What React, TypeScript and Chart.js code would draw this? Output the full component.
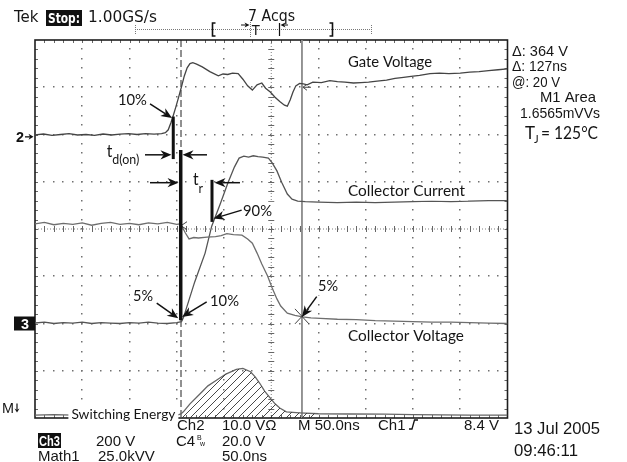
import React, { useEffect, useRef } from "react";
import { Chart, registerables } from "chart.js";

Chart.register(...registerables);

// Time in ns from the left edge of the screen (50 ns/div, 10 div).
// Levels in screen divisions counted from the bottom of the graticule (8 div).
const gateTime = [
  0, 9, 18, 27, 36, 45, 54, 63, 72, 81,
  90, 99, 108, 117, 126, 134, 138, 141, 144, 146,
  149, 152, 155, 158, 161, 164, 167, 171, 177, 185,
  194, 199, 204, 209, 215, 220, 225, 230, 235, 240,
  244, 249, 254, 259, 264, 267, 270, 273, 276, 280,
  284, 288, 294, 303, 312, 320, 328, 337, 345, 353,
  362, 372, 381, 390, 398, 407, 418, 428, 438, 450,
  460, 470, 480, 490, 500,
];
const gateLevel = [
  5.99, 6.01, 5.98, 6.0, 6.02, 5.99, 6.0, 5.98, 6.01, 5.99,
  6.01, 6.02, 6.0, 6.02, 6.01, 6.02, 6.04, 6.1, 6.26, 6.38,
  6.58, 6.79, 7.01, 7.24, 7.41, 7.5, 7.52, 7.49, 7.43, 7.33,
  7.24, 7.28, 7.27, 7.3, 7.29, 7.17, 7.03, 6.94, 7.05, 7.09,
  6.98, 6.9, 6.79, 6.7, 6.62, 6.6, 6.73, 6.9, 7.03, 7.08,
  7.07, 7.05, 7.11, 7.1, 7.14, 7.12, 7.11, 7.09, 7.1, 7.11,
  7.13, 7.15, 7.19, 7.21, 7.23, 7.25, 7.29, 7.3, 7.29, 7.3,
  7.32, 7.33, 7.35, 7.37, 7.39,
];

const currentTime = [
  0, 10, 20, 30, 40, 50, 60, 70, 80, 90, 100, 110, 120, 130, 140, 150,
  155, 157, 169, 180, 187, 196, 204, 211, 216, 221,
  226, 231, 236, 241, 247, 251, 256, 261, 267, 272,
  278, 286, 300, 320, 340, 360, 380, 400, 420, 440,
  460, 480, 500,
];
const currentLevel = [
  2.01, 2.03, 2.0, 2.02, 2.01, 2.03, 2.0, 2.02, 2.01, 2.0, 2.02, 2.01, 2.03, 2.01, 2.0, 2.02,
  2.04, 2.12, 2.88, 3.49, 4.06, 4.53, 4.97, 5.31, 5.5, 5.54,
  5.52, 5.55, 5.53, 5.52, 5.5, 5.4, 5.23, 4.99, 4.74, 4.63,
  4.59, 4.58, 4.57, 4.56, 4.57, 4.56, 4.57, 4.58, 4.59, 4.58,
  4.59, 4.6, 4.6,
];

const voltageTime = [
  0, 10, 20, 30, 40, 50, 60, 70, 80, 90, 100, 110, 120, 130, 140, 150,
  154, 159, 163, 168, 173, 182, 191, 197, 203, 210,
  219, 225, 230, 235, 240, 246, 251, 256, 260, 267,
  275, 283, 292, 302, 320, 340, 360, 380, 400, 420,
  440, 460, 480, 500,
];
const voltageLevel = [
  4.11, 4.14, 4.09, 4.12, 4.1, 4.13, 4.08, 4.12, 4.14, 4.1, 4.12, 4.09, 4.13, 4.11, 4.14, 4.1,
  4.11, 3.92, 3.79, 3.82, 3.81, 3.83, 3.84, 3.86, 3.9, 3.88,
  3.87, 3.79, 3.7, 3.49, 3.26, 3.01, 2.75, 2.52, 2.37, 2.22,
  2.17, 2.14, 2.12, 2.11, 2.09, 2.08, 2.06, 2.05, 2.04, 2.03,
  2.03, 2.02, 2.01, 2.0,
];

const energyTime = [
  0, 20, 40, 60, 80, 100, 120, 140, 150,
  154, 157, 164, 175, 183, 192, 202, 213, 220, 228,
  233, 238, 243, 249, 254, 259, 266, 280, 300, 333,
  370, 400, 429, 460, 500,
];
const energyLevel = [
  0.06, 0.07, 0.06, 0.05, 0.07, 0.06, 0.06, 0.07, 0.06,
  0.08, 0.13, 0.3, 0.52, 0.68, 0.8, 0.93, 1.03, 1.05, 0.98,
  0.87, 0.73, 0.57, 0.42, 0.3, 0.21, 0.13, 0.11, 0.09, 0.085,
  0.08, 0.07, 0.065, 0.06, 0.06,
];
const hatchStart = 150;
const hatchEnd = 300;

const dashedCursorTime = 154.5;
const solidCursorTime = 282.5;

// annotation geometry in data units [time ns, level div]
const markerBars = [
  { t: 146.3, a: 6.38, b: 5.48, w: 3 },
  { t: 154.2, a: 5.67, b: 2.07, w: 3.5 },
  { t: 187.3, a: 5.04, b: 4.15, w: 3 },
];
const arrowList = [
  [121.7, 6.65, 145.0, 6.35],
  [116.4, 5.57, 144.4, 5.57],
  [182.0, 5.57, 156.1, 5.57],
  [121.7, 4.98, 151.9, 4.98],
  [216.9, 4.98, 190.0, 4.98],
  [218.7, 4.40, 188.9, 4.22],
  [128.8, 2.43, 151.6, 2.11],
  [181.7, 2.46, 155.6, 2.14],
  [298.1, 2.57, 282.5, 2.14],
];
// [text, time, level(baseline), width px, size px]
const noteLabels: [string, number, number, number, number][] = [
  ["10%", 87.8, 6.624, 29, 16],
  ["90%", 220.1, 4.275, 29, 16],
  ["5%", 103.7, 2.476, 20, 16],
  ["10%", 185.2, 2.37, 29, 16],
  ["5%", 299.5, 2.688, 20, 16],
  ["Gate Voltage", 331.2, 7.439, 84, 15],
  ["Collector Current", 331.2, 4.688, 117, 15],
  ["Collector Voltage", 331.2, 1.63, 116, 15],
  ["Switching Energy", 38.5, -0.021, 104, 14],
];

const NOTE = 'Lato, "Open Sans", sans-serif';
const SCOPE = '"Liberation Sans", Arial, sans-serif';
const TOPF = '"DejaVu Sans", sans-serif';

function fitText(ctx: any, s: string, x: number, base: number, size: number, width: number, family: string, color = "#151515", bg = false, weight = "normal") {
  ctx.save();
  ctx.font = `${weight} ${size}px ${family}`;
  ctx.textAlign = "left";
  ctx.textBaseline = "alphabetic";
  const m = ctx.measureText(s).width;
  const w = width || m;
  if (bg) {
    ctx.fillStyle = "#fff";
    ctx.fillRect(x - 3, base - size * 0.76 - 2, w + 6, size * 0.76 + 6);
  }
  ctx.fillStyle = color;
  ctx.translate(x, base);
  ctx.scale(w / m, 1);
  ctx.fillText(s, 0, 0);
  ctx.restore();
}

function arrow(ctx: any, x1: number, y1: number, x2: number, y2: number, hl = 11, hw = 4.6, lw = 1.5) {
  const a = Math.atan2(y2 - y1, x2 - x1);
  const c = Math.cos(a), s = Math.sin(a);
  const bx = x2 - c * hl * 0.7, by = y2 - s * hl * 0.7;
  const hx = x2 - c * hl, hy = y2 - s * hl;
  ctx.save();
  ctx.strokeStyle = "#111";
  ctx.fillStyle = "#111";
  ctx.lineWidth = lw;
  ctx.beginPath();
  ctx.moveTo(x1, y1);
  ctx.lineTo(bx, by);
  ctx.stroke();
  ctx.beginPath();
  ctx.moveTo(x2, y2);
  ctx.lineTo(hx - s * hw, hy + c * hw);
  ctx.lineTo(bx, by);
  ctx.lineTo(hx + s * hw, hy - c * hw);
  ctx.closePath();
  ctx.fill();
  ctx.restore();
}

function line(ctx: any, x1: number, y1: number, x2: number, y2: number) {
  ctx.beginPath();
  ctx.moveTo(x1, y1);
  ctx.lineTo(x2, y2);
  ctx.stroke();
}

const scopePlugin = {
  id: "scope",
  beforeDraw(chart: any) {
    const ctx = chart.ctx;
    ctx.save();
    ctx.fillStyle = "#fff";
    ctx.fillRect(0, 0, chart.width, chart.height);
    ctx.restore();
  },
  beforeDatasetsDraw(chart: any) {
    const ctx = chart.ctx;
    const { left: L, right: R, top: T, bottom: B } = chart.chartArea;
    const dx = (R - L) / 10, dy = (B - T) / 8;
    ctx.save();
    ctx.fillStyle = "#707070";
    for (let i = 1; i < 10; i++) {
      if (i === 5) continue;
      const x = L + i * dx;
      for (let k = 1; k < 40; k++) ctx.fillRect(Math.round(x) - 1, Math.round(T + (k * dy) / 5) - 1, 1.5, 1.5);
    }
    for (let j = 1; j < 8; j++) {
      if (j === 4) continue;
      const y = T + j * dy;
      for (let k = 1; k < 50; k++) ctx.fillRect(Math.round(L + (k * dx) / 5) - 1, Math.round(y) - 1, 1.5, 1.5);
    }
    const cx = L + 5 * dx, cy = T + 4 * dy;
    ctx.strokeStyle = "#808080";
    ctx.lineWidth = 1;
    ctx.setLineDash([1, 2]);
    line(ctx, cx, T, cx, B);
    line(ctx, L, cy, R, cy);
    ctx.setLineDash([]);
    ctx.strokeStyle = "#666";
    for (let k = 1; k < 40; k++) {
      const y = Math.round(T + (k * dy) / 5) + 0.5;
      line(ctx, cx - 3, y, cx + 3, y);
      line(ctx, L, y, L + 3, y);
      line(ctx, R - 3, y, R, y);
    }
    for (let k = 1; k < 50; k++) {
      const x = Math.round(L + (k * dx) / 5) + 0.5;
      line(ctx, x, cy - 3, x, cy + 3);
      line(ctx, x, T, x, T + 3);
      line(ctx, x, B - 3, x, B);
    }
    ctx.strokeStyle = "#1e1e1e";
    ctx.lineWidth = 1.6;
    ctx.strokeRect(L, T, R - L, B - T);

    // cursors
    const xs = chart.scales.x;
    const xd = xs.getPixelForValue(dashedCursorTime);
    ctx.strokeStyle = "#222";
    ctx.lineWidth = 1;
    ctx.setLineDash([7, 3]);
    line(ctx, xd, T, xd, B);
    ctx.setLineDash([]);
    const xsol = xs.getPixelForValue(solidCursorTime);
    ctx.strokeStyle = "#8a8a8a";
    ctx.lineWidth = 1.8;
    line(ctx, xsol, T, xsol, B);
    ctx.restore();
  },
  afterDatasetsDraw(chart: any) {
    const ctx = chart.ctx;
    const xs = chart.scales.x, ys = chart.scales.y;
    const px = (t: number) => xs.getPixelForValue(t);
    const py = (v: number) => ys.getPixelForValue(v);
    ctx.save();

    // cursor markers
    ctx.strokeStyle = "#444";
    ctx.lineWidth = 1;
    {
      const x = px(solidCursorTime), y = py(7.0);
      line(ctx, x + 1, y, x + 9, y);
      line(ctx, x + 1, y, x + 5, y - 3);
      line(ctx, x + 1, y, x + 5, y + 3);
      const xd = px(dashedCursorTime), yv = py(4.07);
      line(ctx, xd + 6, yv - 4, xd, yv);
      line(ctx, xd, yv, xd + 6, yv + 4);
      const yx = py(2.14);
      line(ctx, x - 7, yx - 8, x + 7, yx + 7);
      line(ctx, x - 7, yx + 7, x + 7, yx - 8);
    }

    // labels with white backing
    for (const [s, t, v, w, size] of noteLabels) {
      fitText(ctx, s, px(t), py(v), size, w, NOTE, "#151515", true);
    }
    // t d(on), t r
    {
      const x = px(75.9), b = py(5.53);
      ctx.fillStyle = "#fff";
      ctx.fillRect(x - 3, b - 13, 38, 23);
      fitText(ctx, "t", x, b, 17, 5.6, NOTE);
      fitText(ctx, "d(on)", px(81.8), py(5.386), 13, 27, NOTE);
      const xr = px(167.2), br = py(4.931);
      ctx.fillStyle = "#fff";
      ctx.fillRect(xr - 3, br - 13, 15, 23);
      fitText(ctx, "t", xr, br, 17, 5.6, NOTE);
      fitText(ctx, "r", px(173.0), py(4.762), 13, 4.5, NOTE);
    }

    // bars
    ctx.strokeStyle = "#111";
    for (const b of markerBars) {
      ctx.lineWidth = b.w;
      line(ctx, px(b.t), py(b.a), px(b.t), py(b.b));
    }
    // arrows
    for (const [t1, v1, t2, v2] of arrowList) arrow(ctx, px(t1), py(v1), px(t2), py(v2));

    // ---- scope readouts ----
    // top
    fitText(ctx, "Tek", 14, 22, 15, 0, TOPF);
    ctx.fillStyle = "#111";
    ctx.fillRect(46, 10, 36, 16);
    fitText(ctx, "Stop:", 48, 22.5, 14, 32, TOPF, "#fff", false, "bold");
    fitText(ctx, "1.00GS/s", 88, 22, 15, 69, TOPF);
    fitText(ctx, "7 Acqs", 248, 20.5, 15, 47, TOPF);
    // record ruler
    ctx.strokeStyle = "#777";
    ctx.lineWidth = 1;
    ctx.setLineDash([1, 1]);
    line(ctx, 135, 29.5, 372, 29.5);
    line(ctx, 135.5, 25, 135.5, 34);
    line(ctx, 371.5, 25, 371.5, 34);
    line(ctx, 250.5, 20, 250.5, 38);
    ctx.setLineDash([]);
    ctx.strokeStyle = "#111";
    ctx.lineWidth = 1.6;
    ctx.beginPath();
    ctx.moveTo(215.5, 23); ctx.lineTo(212.5, 23); ctx.lineTo(212.5, 36); ctx.lineTo(215.5, 36);
    ctx.stroke();
    ctx.beginPath();
    ctx.moveTo(329.5, 23); ctx.lineTo(332.5, 23); ctx.lineTo(332.5, 36); ctx.lineTo(329.5, 36);
    ctx.stroke();
    ctx.lineWidth = 1.2;
    line(ctx, 279.5, 23, 279.5, 36);
    arrow(ctx, 288, 25, 280.5, 25, 5, 2.5, 1);
    arrow(ctx, 241, 25, 249.5, 25, 5, 2.5, 1);
    fitText(ctx, "T", 251.5, 35, 14, 0, SCOPE);

    // right side readouts
    fitText(ctx, "\u0394: 364 V", 512, 55.5, 15, 56, SCOPE);
    fitText(ctx, "\u0394: 127ns", 512, 71, 15, 55, SCOPE);
    fitText(ctx, "@: 20 V", 512, 86.5, 15, 48, SCOPE);
    fitText(ctx, "M1 Area", 540, 102, 15, 56, SCOPE);
    fitText(ctx, "1.6565mVVs", 520, 118, 15, 80, SCOPE);
    fitText(ctx, "T", 525, 139, 17, 0, NOTE);
    fitText(ctx, "J", 534, 142.5, 11, 0, NOTE);
    fitText(ctx, "= 125\u00b0C", 541, 139, 17, 57, NOTE);

    // left channel markers
    {
      const y2 = py(5.95);
      fitText(ctx, "2", 16, y2 + 5.5, 15, 8, SCOPE, "#111", false, "bold");
      arrow(ctx, 25, y2, 33.5, y2, 5, 3, 1.3);
      const y3 = py(2.0);
      ctx.fillStyle = "#111";
      ctx.fillRect(14, y3 - 7, 21, 14);
      fitText(ctx, "3", 21, y3 + 5, 14, 8, SCOPE, "#fff", false, "bold");
      const ym = py(0.2);
      fitText(ctx, "M", 2, ym + 4, 15, 12, SCOPE);
      ctx.strokeStyle = "#111";
      arrow(ctx, 17, ym - 5, 17, ym + 4, 4, 2.5, 1.2);
    }

    // bottom rows
    fitText(ctx, "Ch2", 177, 430, 15, 0, SCOPE);
    fitText(ctx, "10.0 V\u03a9", 222, 430, 15, 0, SCOPE);
    fitText(ctx, "M 50.0ns", 298, 430, 15, 0, SCOPE);
    fitText(ctx, "Ch1", 378, 430, 15, 0, SCOPE);
    ctx.strokeStyle = "#111";
    ctx.lineWidth = 1.3;
    ctx.beginPath();
    ctx.moveTo(409, 429); ctx.lineTo(412, 429); ctx.lineTo(414.5, 420); ctx.lineTo(418, 420);
    ctx.stroke();
    fitText(ctx, "8.4 V", 464, 430, 15, 0, SCOPE);
    fitText(ctx, "13 Jul 2005", 514, 434, 16.5, 86, SCOPE);
    fitText(ctx, "09:46:11", 514, 456, 16.5, 64, SCOPE);

    ctx.fillStyle = "#111";
    ctx.fillRect(38, 433, 23, 15);
    fitText(ctx, "Ch3", 39, 446, 14, 21, SCOPE, "#fff", false, "bold");
    fitText(ctx, "200 V", 96, 446, 15, 0, SCOPE);
    fitText(ctx, "C4", 176, 446, 15, 0, SCOPE);
    fitText(ctx, "B", 197, 440, 7, 0, SCOPE);
    fitText(ctx, "w", 200, 446, 7, 0, SCOPE);
    fitText(ctx, "20.0 V", 222, 446, 15, 0, SCOPE);

    fitText(ctx, "Math1", 38, 461, 15, 0, SCOPE);
    fitText(ctx, "25.0kVV", 98, 461, 15, 0, SCOPE);
    fitText(ctx, "50.0ns", 222, 461, 15, 0, SCOPE);

    ctx.restore();
  },
};

function pts(t: number[], v: number[]) {
  return t.map((x, i) => ({ x, y: v[i] }));
}

export default function App() {
  const ref = useRef<HTMLCanvasElement>(null);
  useEffect(() => {
    const canvas = ref.current as HTMLCanvasElement;
    const ctx = canvas.getContext("2d") as CanvasRenderingContext2D;
    const tile = document.createElement("canvas");
    tile.width = 8;
    tile.height = 8;
    const tc = tile.getContext("2d") as CanvasRenderingContext2D;
    tc.strokeStyle = "#333";
    tc.lineWidth = 0.9;
    tc.beginPath();
    tc.moveTo(0, 8); tc.lineTo(8, 0);
    tc.moveTo(-1, 1); tc.lineTo(1, -1);
    tc.moveTo(7, 9); tc.lineTo(9, 7);
    tc.stroke();
    const hatch = ctx.createPattern(tile, "repeat");

    const hatchPts = pts(energyTime, energyLevel).filter((p) => p.x >= hatchStart && p.x <= hatchEnd);

    const chart = new Chart(canvas, {
      type: "line",
      data: {
        datasets: [
          { label: "hatch", data: hatchPts, borderWidth: 0, pointRadius: 0, fill: { value: 0 }, backgroundColor: hatch as any, borderColor: "rgba(0,0,0,0)" },
          { label: "Switching Energy", data: pts(energyTime, energyLevel), borderColor: "#666", borderWidth: 1.3, pointRadius: 0, fill: false },
          { label: "Collector Voltage", data: pts(voltageTime, voltageLevel), borderColor: "#6e6e6e", borderWidth: 1.3, pointRadius: 0, fill: false },
          { label: "Collector Current", data: pts(currentTime, currentLevel), borderColor: "#555", borderWidth: 1.3, pointRadius: 0, fill: false },
          { label: "Gate Voltage", data: pts(gateTime, gateLevel), borderColor: "#444", borderWidth: 1.3, pointRadius: 0, fill: false },
        ],
      },
      options: {
        animation: false,
        responsive: false,
        maintainAspectRatio: false,
        devicePixelRatio: 1,
        layout: { padding: { left: 35, top: 40, right: 119.5, bottom: 44 } },
        scales: {
          x: { type: "linear", min: 0, max: 500, display: false },
          y: { type: "linear", min: 0, max: 8, display: false },
        },
        plugins: { legend: { display: false }, tooltip: { enabled: false } },
        elements: { line: { tension: 0 } },
      },
      plugins: [scopePlugin],
    } as any);
    return () => chart.destroy();
  }, []);
  return (
    <div style={{ position: "fixed", left: 0, top: 0, width: 627, height: 462, background: "#fff" }}>
      <canvas ref={ref} width={627} height={462} style={{ display: "block", width: 627, height: 462 }} />
    </div>
  );
}
